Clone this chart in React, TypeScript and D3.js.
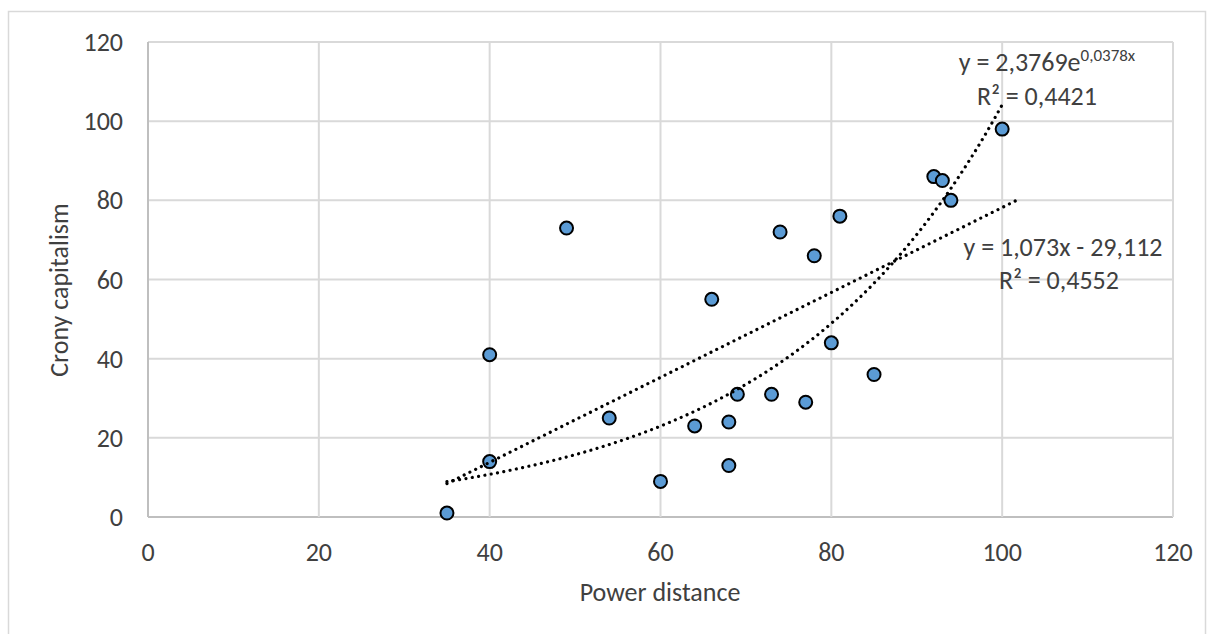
import React from 'react'
import * as d3 from 'd3'

// power distance (x) vs crony capitalism (y)
const powerDistance = [35, 40, 40, 49, 54, 60, 64, 66, 68, 68, 69, 73, 74, 77, 78, 80, 81, 85, 92, 93, 94, 100]
const cronyCapitalism = [1, 14, 41, 73, 25, 9, 23, 55, 24, 13, 31, 31, 72, 29, 66, 44, 76, 36, 86, 85, 80, 98]

const xTicks = [0, 20, 40, 60, 80, 100, 120]
const yTicks = [0, 20, 40, 60, 80, 100, 120]

// trendlines as shown in the chart
const expCoef = [2.3769, 0.0378]
const expRange = [35, 100]
const linCoef = [1.073, -29.112]
const linRange = [35, 102]

const W = 1208
const H = 634

export default function App() {
  const x = d3.scaleLinear().domain([0, 120]).range([148, 1173])
  const y = d3.scaleLinear().domain([0, 120]).range([517, 42])

  const points = powerDistance.map((v, i) => ({ x: v, y: cronyCapitalism[i] }))

  const line = d3.line<number[]>().x(d => x(d[0])).y(d => y(d[1]))

  const expPts = d3.range(expRange[0], expRange[1] + 0.001, 0.5).map(v => [v, expCoef[0] * Math.exp(expCoef[1] * v)])
  const linPts = [linRange[0], linRange[1]].map(v => [v, linCoef[0] * v + linCoef[1]])

  const font = 'Carlito, Calibri, Lato, sans-serif'
  const fs = 26
  const txt = '#404040'
  const grid = '#d9d9d9'

  return (
    <svg width={W} height={H} style={{ position: 'absolute', left: 0, top: 0, background: '#fff' }} fontFamily={font}>
      <rect x={8.5} y={11.5} width={1197} height={H + 10} fill="#fff" stroke={grid} strokeWidth={1.5} />

      {/* gridlines */}
      {yTicks.map(t => (
        <line key={'gy' + t} x1={x(0)} x2={x(120)} y1={y(t)} y2={y(t)} stroke={t === 0 ? '#bfbfbf' : grid} strokeWidth={2} />
      ))}
      {xTicks.map(t => (
        <line key={'gx' + t} x1={x(t)} x2={x(t)} y1={y(0)} y2={y(120)} stroke={t === 0 ? '#bfbfbf' : grid} strokeWidth={2} />
      ))}

      {/* tick labels */}
      {yTicks.map(t => (
        <text key={'ly' + t} x={123} y={y(t)} dy="0.35em" textAnchor="end" fontSize={fs} fill={txt}>{t}</text>
      ))}
      {xTicks.map(t => (
        <text key={'lx' + t} x={x(t)} y={552} dy="0.35em" textAnchor="middle" fontSize={fs} fill={txt}>{t}</text>
      ))}

      {/* axis titles */}
      <text x={660} y={601} textAnchor="middle" fontSize={fs} fill={txt}>Power distance</text>
      <text transform="translate(68,290) rotate(-90)" textAnchor="middle" fontSize={fs} fill={txt}>Crony capitalism</text>

      {/* points */}
      {points.map((p, i) => (
        <circle key={i} cx={x(p.x)} cy={y(p.y)} r={6.5} fill="#5b9bd5" stroke="#000" strokeWidth={2} />
      ))}

      {/* trendlines */}
      <path d={line(expPts) || ''} fill="none" stroke="#000" strokeWidth={3.2} strokeLinecap="round" strokeDasharray="0.01 6.4" />
      <path d={line(linPts) || ''} fill="none" stroke="#000" strokeWidth={3.2} strokeLinecap="round" strokeDasharray="0.01 6.4" />

      {/* equations */}
      <text x={1047} y={71} textAnchor="middle" fontSize={fs} fill={txt}>
        y = 2,3769e<tspan fontSize={17} dy={-10}>0,0378x</tspan>
      </text>
      <text x={1037} y={105} textAnchor="middle" fontSize={fs} fill={txt}>R² = 0,4421</text>
      <text x={1063} y={256} textAnchor="middle" fontSize={fs} fill={txt}>y = 1,073x - 29,112</text>
      <text x={1059} y={289} textAnchor="middle" fontSize={fs} fill={txt}>R² = 0,4552</text>
    </svg>
  )
}
